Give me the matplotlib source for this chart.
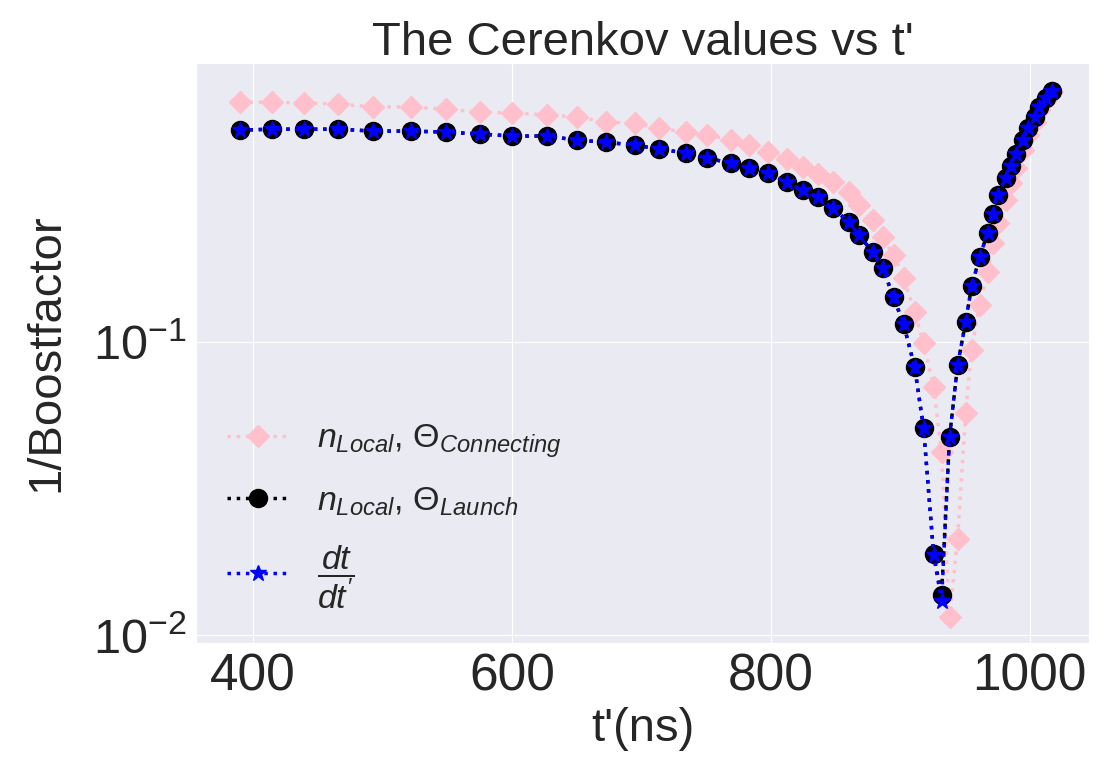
import matplotlib
matplotlib.use("Agg")
import matplotlib.pyplot as plt
import seaborn as sns

sns.set_style("darkgrid")
plt.rcParams["font.family"] = ["Liberation Sans", "DejaVu Sans"]
plt.rcParams["mathtext.fontset"] = "custom"
plt.rcParams["mathtext.rm"] = "Liberation Sans"
plt.rcParams["mathtext.it"] = "Liberation Sans:italic"

# observer time t' (ns), shared by all three curves
t_obs = [390.0, 414.7, 439.4, 465.6, 492.7, 522.0, 549.0, 575.3, 600.0, 627.0,
         650.2, 672.6, 695.0, 713.5, 734.4, 750.6, 769.1, 783.0, 797.7, 812.4,
         824.7, 836.3, 847.9, 860.2, 868.0, 878.8, 886.5, 895.0, 902.7, 911.2,
         918.1, 925.9, 932.0, 938.2, 944.4, 950.6, 955.2, 961.4, 967.6, 971.4,
         975.3, 981.5, 985.3, 989.2, 994.6, 999.2, 1003.9, 1007.7, 1012.4, 1017.0]

# 1/boost using n_local and the connecting angle
boost_connecting = [0.659, 0.659, 0.654, 0.649, 0.636, 0.634, 0.624, 0.610, 0.605, 0.596,
                    0.586, 0.563, 0.559, 0.537, 0.521, 0.509, 0.489, 0.470, 0.445, 0.421,
                    0.396, 0.375, 0.352, 0.325, 0.294, 0.261, 0.228, 0.198, 0.165, 0.127,
                    0.0992, 0.0702, 0.0421, 0.0115, 0.0213, 0.0572, 0.0939, 0.134, 0.173, 0.218,
                    0.255, 0.305, 0.349, 0.393, 0.452, 0.509, 0.563, 0.619, 0.670, 0.713]

# 1/boost using n_local and the launch angle
boost_launch = [0.529, 0.533, 0.533, 0.533, 0.525, 0.525, 0.521, 0.513, 0.505, 0.505,
                0.489, 0.481, 0.470, 0.456, 0.442, 0.425, 0.408, 0.393, 0.377, 0.352,
                0.330, 0.313, 0.287, 0.257, 0.232, 0.203, 0.179, 0.142, 0.115, 0.0822,
                0.0509, 0.0189, 0.0137, 0.0474, 0.0835, 0.117, 0.155, 0.195, 0.236, 0.273,
                0.318, 0.363, 0.399, 0.438, 0.489, 0.537, 0.586, 0.634, 0.681, 0.719]

# dt/dt'
dt_dtobs = [0.529, 0.533, 0.533, 0.533, 0.525, 0.525, 0.521, 0.513, 0.505, 0.505,
            0.489, 0.481, 0.470, 0.456, 0.442, 0.425, 0.408, 0.393, 0.377, 0.352,
            0.330, 0.313, 0.287, 0.257, 0.232, 0.203, 0.179, 0.142, 0.115, 0.0822,
            0.0509, 0.0187, 0.0131, 0.0474, 0.0835, 0.117, 0.155, 0.195, 0.236, 0.273,
            0.318, 0.363, 0.399, 0.438, 0.489, 0.537, 0.586, 0.634, 0.681, 0.719]

fig = plt.figure(figsize=(11.09, 7.60), dpi=100)
ax = fig.add_axes([0.177, 0.154, 0.805, 0.763])

ax.plot(t_obs, boost_connecting, color="pink", linestyle=":", linewidth=2.5,
        marker="D", markersize=11,
        label=r"$n_{Local}$, $\Theta_{Connecting}$")
ax.plot(t_obs, boost_launch, color="k", linestyle=":", linewidth=2.5,
        marker="o", markersize=13,
        label=r"$n_{Local}$, $\Theta_{Launch}$")
ax.plot(t_obs, dt_dtobs, color="b", linestyle=":", linewidth=2.5,
        marker="*", markersize=12,
        label=r"$\dfrac{dt}{dt'}$")

ax.set_yscale("log")
ax.set_xlim(356, 1046)
ax.set_ylim(0.0094, 0.896)
ax.set_xticks([400, 600, 800, 1000])
ax.tick_params(axis="x", labelsize=37)
ax.tick_params(axis="y", labelsize=35)
ax.set_xlabel("t'(ns)", fontsize=34)
ax.set_ylabel("1/Boostfactor", fontsize=34, labelpad=18)
ax.set_title("The Cerenkov values vs t'", fontsize=34)

ax.legend(loc="lower left", fontsize=24.5, frameon=False, handlelength=1.85,
          labelspacing=0.75, bbox_to_anchor=(0.0, 0.003))

fig.savefig("out.png", dpi=100)
